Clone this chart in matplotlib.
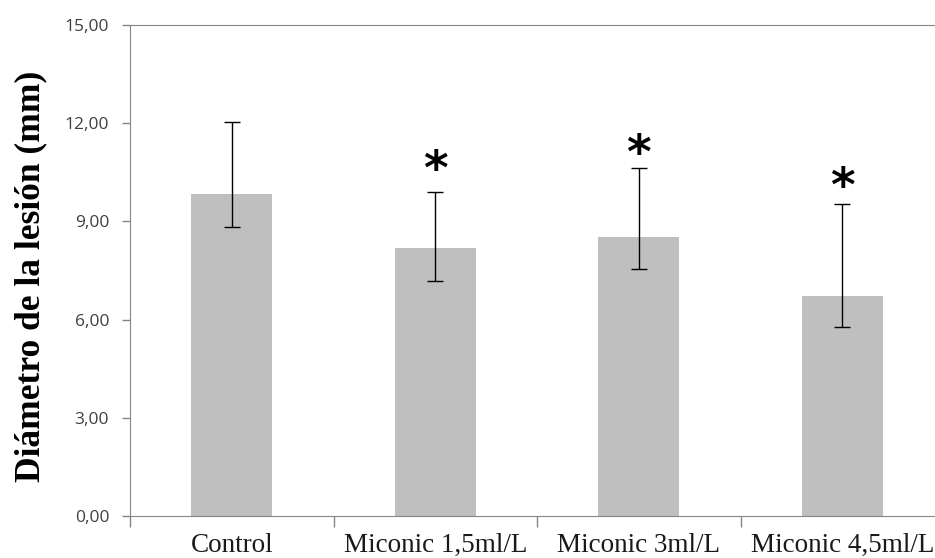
import matplotlib.pyplot as plt
import numpy as np

# datos del gráfico
categorias = ["Control", "Miconic 1,5ml/L", "Miconic 3ml/L", "Miconic 4,5ml/L"]
medias = [9.85, 8.19, 8.53, 6.72]
err_sup = [2.20, 1.71, 2.09, 2.80]
err_inf = [1.01, 1.00, 0.98, 0.95]
# altura de los asteriscos (None = sin asterisco)
asterisco_y = [None, 10.79, 11.27, 10.27]
y_ticks = [0, 3, 6, 9, 12, 15]

fig = plt.figure(figsize=(9.35, 5.58), dpi=100)
ax = fig.add_axes([130 / 935, 42 / 558, 814 / 935, 491 / 558])

x = np.arange(len(categorias))
ax.bar(x, medias, width=0.4, color="#BFBFBF", zorder=2)
ax.errorbar(x, medias, yerr=[err_inf, err_sup], fmt="none", ecolor="black",
            elinewidth=1, capsize=5.5, capthick=1, zorder=3)

# asteriscos de significancia (el glifo queda alto, se baja un poco)
for xi, ya in zip(x, asterisco_y):
    if ya is not None:
        ax.annotate("*", (xi, ya), xytext=(0, -6), textcoords="offset points",
                    ha="center", va="center", fontsize=34, fontweight="bold",
                    family="DejaVu Sans")

ax.set_xlim(-0.5, len(categorias) - 0.5)
ax.set_ylim(0, 15)
ax.set_yticks(y_ticks)
ax.set_yticklabels([("%.2f" % v).replace(".", ",") for v in y_ticks],
                   family="Open Sans", fontsize=12.5, color="#404040")
ax.tick_params(axis="y", length=6, color="#868686", width=1, pad=9)

ax.set_xticks(x)
ax.set_xticklabels(categorias, family="Liberation Serif", fontsize=19.5,
                   color="#1a1a1a")
ax.set_xticks(np.arange(-0.5, len(categorias)), minor=True)
ax.tick_params(axis="x", which="major", length=0, pad=12)
ax.tick_params(axis="x", which="minor", length=8, color="#868686", width=1)

for lado in ["left", "bottom", "top"]:
    ax.spines[lado].set_color("#868686")
ax.spines["right"].set_visible(False)

ax.set_ylabel("Diámetro de la lesión (mm)", family="Liberation Serif",
              fontweight="bold", fontsize=25.5)
ax.yaxis.set_label_coords(-0.102, 0.489)

fig.savefig("out.png", dpi=100)
